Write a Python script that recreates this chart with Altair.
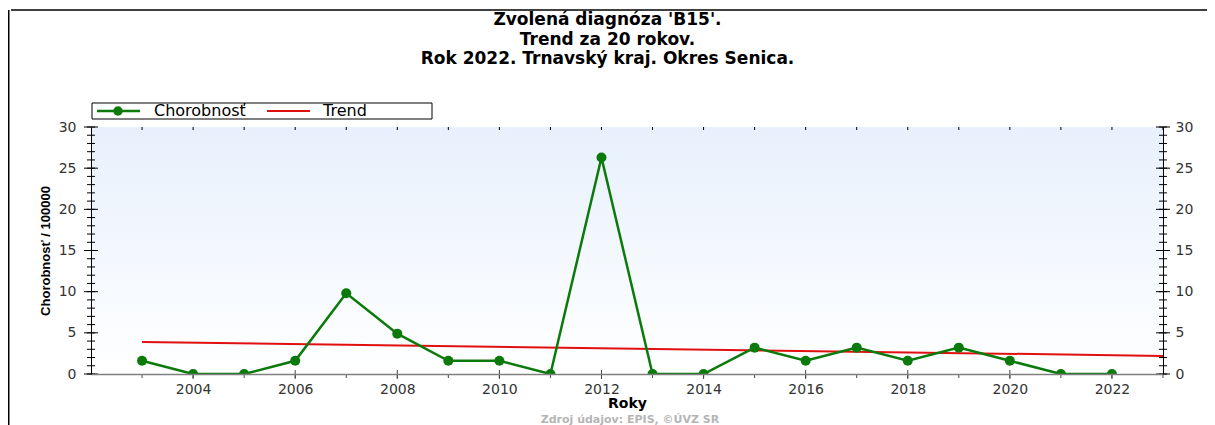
import altair as alt
import pandas as pd

# ---------------- data ----------------
YEARS = [2003, 2004, 2005, 2006, 2007, 2008, 2009, 2010, 2011, 2012,
         2013, 2014, 2015, 2016, 2017, 2018, 2019, 2020, 2021, 2022]
CHOROBNOST = [1.6, 0, 0, 1.6, 9.8, 4.9, 1.6, 1.6, 0, 26.3,
              0, 0, 3.2, 1.6, 3.2, 1.6, 3.2, 1.6, 0, 0]
TREND_YEARS = [2003, 2023]
TREND = [3.9, 2.2]

X_LABEL_YEARS = [2004, 2006, 2008, 2010, 2012, 2014, 2016, 2018, 2020, 2022]
X_TICK_YEARS = list(range(2003, 2024))
Y_MAJOR = [0, 5, 10, 15, 20, 25, 30]
Y_MINOR = list(range(0, 31))

TITLE_LINES = ["Zvolená diagnóza 'B15'.", "Trend za 20 rokov.",
               "Rok 2022. Trnavský kraj. Okres Senica."]
LEGEND_LABELS = ["Chorobnosť", "Trend"]
X_TITLE = "Roky"
Y_TITLE = "Chorobnosť / 100000"
SOURCE = "Zdroj údajov: EPIS, ©ÚVZ SR"

# ---------------- layout / style ----------------
W, H = 1072, 247
PAD = {"left": 83, "top": 119, "right": 44, "bottom": 51}
GREEN = "#0b7a0b"
RED = "#e01010"
FONT = "DejaVu Sans"

df = pd.DataFrame({"rok": YEARS, "val": CHOROBNOST})
trend_df = pd.DataFrame({"rok": TREND_YEARS, "val": TREND})
xt_df = pd.DataFrame({"rok": X_TICK_YEARS})
xt_even_df = pd.DataFrame({"rok": X_LABEL_YEARS})
ymin_df = pd.DataFrame({"v": Y_MINOR})
ymaj_df = pd.DataFrame({"v": Y_MAJOR})
one = pd.DataFrame({"a": [0]})

xscale = alt.Scale(domain=[2002, 2023], nice=False, zero=False)
yscale = alt.Scale(domain=[0, 30], nice=False)

xaxis = alt.Axis(values=X_LABEL_YEARS, format="d", tickSize=0, grid=False,
                 domainColor="#808080", domainWidth=1.5, labelFont=FONT, labelFontSize=14,
                 labelColor="#333333", labelPadding=8, title=X_TITLE,
                 titleFont=FONT, titleFontSize=14, titleFontWeight="bold",
                 titleColor="#000000", titleY=29, titleBaseline="middle", zindex=1)
yaxis_left = alt.Axis(values=Y_MAJOR, tickSize=0, grid=False, domainColor="#000000",
                      labelFont=FONT, labelFontSize=14, labelColor="#333333",
                      labelPadding=15, title=Y_TITLE, titleFont="Liberation Sans",
                      titleFontSize=13, titleFontWeight="bold", titleColor="#000000",
                      titleX=-46, titleY=H / 2, titleAlign="center",
                      titleBaseline="middle", zindex=1)
yaxis_right = alt.Axis(values=Y_MAJOR, orient="right", tickSize=0, grid=False,
                       domainColor="#000000", labelFont=FONT, labelFontSize=14,
                       labelColor="#333333", labelPadding=12, title=None, zindex=1)


def X():
    return alt.X("rok:Q", scale=xscale, axis=xaxis)


bg = alt.Chart(one).mark_rect(
    color=alt.LinearGradient(gradient="linear",
                             stops=[alt.GradientStop(color="#e7f0fc", offset=0),
                                    alt.GradientStop(color="#ffffff", offset=1)],
                             x1=0, x2=0, y1=0, y2=1)
).encode(x=alt.value(0), x2=alt.value(W), y=alt.value(0), y2=alt.value(H))

# frame of the picture
frame_top = alt.Chart(one).mark_rule(color="#000000", strokeWidth=1.5).encode(
    x=alt.value(-PAD["left"] + 3), x2=alt.value(W + PAD["right"]), y=alt.value(-117))
frame_left = alt.Chart(one).mark_rule(color="#000000", strokeWidth=2).encode(
    x=alt.value(-PAD["left"] + 0.5), y=alt.value(-117), y2=alt.value(H + PAD["bottom"]))

# y ticks (left and right, crossing the axis)
yt_min_l = alt.Chart(ymin_df).mark_rule(color="#000000").encode(
    y=alt.Y("v:Q", scale=yscale, axis=None), x=alt.value(-4), x2=alt.value(4))
yt_maj_l = alt.Chart(ymaj_df).mark_rule(color="#000000").encode(
    y=alt.Y("v:Q", scale=yscale, axis=yaxis_left), x=alt.value(-7), x2=alt.value(7))
yt_min_r = alt.Chart(ymin_df).mark_rule(color="#000000").encode(
    y=alt.Y("v:Q", scale=yscale, axis=None), x=alt.value(W - 4), x2=alt.value(W + 4))
yt_maj_r = alt.Chart(ymaj_df).mark_rule(color="#000000").encode(
    y=alt.Y("v:Q", scale=yscale, axis=yaxis_right), x=alt.value(W - 7), x2=alt.value(W + 7))

# x ticks
xt_bottom = alt.Chart(xt_df).mark_rule(color="#444444").encode(
    x=X(), y=alt.value(H), y2=alt.value(H + 4))
xt_even = alt.Chart(xt_even_df).mark_rule(color="#444444").encode(
    x=X(), y=alt.value(H - 4), y2=alt.value(H + 5))
xt_top = alt.Chart(xt_df).mark_rule(color="#000000").encode(
    x=X(), y=alt.value(0), y2=alt.value(3))

trend = alt.Chart(trend_df).mark_line(color=RED, strokeWidth=2, clip=True).encode(
    x=X(), y=alt.Y("val:Q", scale=yscale, axis=None))
line = alt.Chart(df).mark_line(color=GREEN, strokeWidth=2.5, clip=True).encode(
    x=X(), y=alt.Y("val:Q", scale=yscale, axis=None))
pts = alt.Chart(df).mark_circle(color=GREEN, size=100, opacity=1, clip=True).encode(
    x=X(), y=alt.Y("val:Q", scale=yscale, axis=None))

# title
title = alt.Chart(one).mark_text(text=TITLE_LINES, font=FONT, fontSize=17, fontWeight="bold",
                                 lineHeight=19.5, baseline="top", align="center",
                                 color="#000000").encode(
    x=alt.value(607.5 - 8 - PAD["left"]), y=alt.value(-115))

# legend
leg_box = alt.Chart(one).mark_rect(fill="#ffffff", stroke="#000000", strokeWidth=1).encode(
    x=alt.value(1), x2=alt.value(341), y=alt.value(-24), y2=alt.value(-8))
leg_g = alt.Chart(one).mark_rule(color=GREEN, strokeWidth=2.5).encode(
    x=alt.value(6), x2=alt.value(49), y=alt.value(-16))
leg_gp = alt.Chart(one).mark_circle(color=GREEN, size=90, opacity=1).encode(
    x=alt.value(27), y=alt.value(-16))
leg_t1 = alt.Chart(one).mark_text(text=LEGEND_LABELS[0], font=FONT, fontSize=16, align="left",
                                  baseline="middle", color="#000000").encode(
    x=alt.value(63), y=alt.value(-16))
leg_r = alt.Chart(one).mark_rule(color=RED, strokeWidth=2).encode(
    x=alt.value(176), x2=alt.value(219), y=alt.value(-16))
leg_t2 = alt.Chart(one).mark_text(text=LEGEND_LABELS[1], font=FONT, fontSize=16, align="left",
                                  baseline="middle", color="#000000").encode(
    x=alt.value(232), y=alt.value(-16))

source = alt.Chart(one).mark_text(text=SOURCE, font=FONT, fontSize=11, fontWeight="bold",
                                  align="center", baseline="top", color="#b5b5b5").encode(
    x=alt.value(W / 2 + 3), y=alt.value(H + 40))

chart = alt.layer(
    bg, frame_top, frame_left,
    yt_min_l, yt_maj_l, yt_min_r, yt_maj_r,
    xt_bottom, xt_even, xt_top,
    trend, line, pts,
    title, leg_box, leg_g, leg_gp, leg_t1, leg_r, leg_t2, source,
).resolve_axis(y="independent").properties(
    width=W, height=H, padding=PAD, autosize=alt.AutoSizeParams(type="none"),
    background="#ffffff",
).configure_view(stroke="#000000", strokeWidth=1)

chart.save("out.html", embed_options={"renderer": "svg", "actions": False})
